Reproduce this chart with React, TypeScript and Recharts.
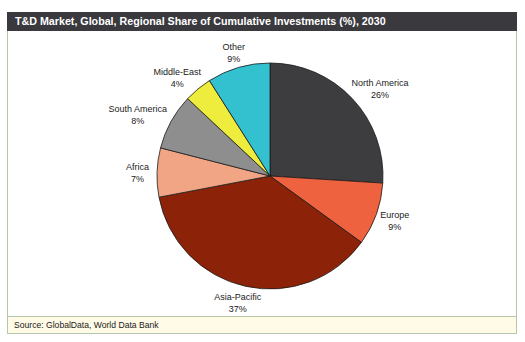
import React from "react";
import { PieChart, Pie, Cell } from "recharts";

const regions = ["North America", "Europe", "Asia-Pacific", "Africa", "South America", "Middle-East", "Other"];
const shares = [26, 9, 37, 7, 8, 4, 9];
const colors = ["#3d3d3f", "#ef6240", "#8c2308", "#f2a584", "#8e8e8e", "#eeec3c", "#33c0cf"];

const data = regions.map((name, i) => ({ name, value: shares[i] }));

const FONT = "Arial, 'Liberation Sans', sans-serif";
const RAD = Math.PI / 180;

// excel-style outside label: box edge sits just off the rim along the mid angle
const renderLabel = (p: any) => {
  const { cx, cy, midAngle, outerRadius, name, value } = p;
  const sin = Math.cos(-midAngle * RAD);
  const cos = Math.sin(-midAngle * RAD);
  const r = outerRadius + 4;
  const ax = cx + r * sin;
  const ay = cy + r * cos;
  const w = name.length * 5.2;
  const h = 24;
  const x = ax + sin * w / 2;
  const y = ay + cos * h / 2;
  return (
    <text x={x} y={y} textAnchor="middle" fontSize={9} fontFamily={FONT} fill="#222">
      <tspan x={x} dy={-2}>{name}</tspan>
      <tspan x={x} dy={12}>{value}%</tspan>
    </text>
  );
};

export default function App() {
  return (
    <div style={{ position: "absolute", left: 0, top: 0, width: 525, height: 342, background: "#fff" }}>
      <div style={{
        position: "absolute", left: 7, top: 12, width: 508, height: 321,
        border: "1px solid #b4c9ac", borderTop: "none", boxSizing: "content-box",
      }}/>
      <div style={{
        position: "absolute", left: 7, top: 12, width: 510, height: 19, background: "#3a393d",
        color: "#fff", fontFamily: FONT, fontWeight: 700, fontSize: 10.7, lineHeight: "19px",
        paddingLeft: 8, boxSizing: "border-box", whiteSpace: "nowrap",
      }}>
        T&amp;D Market, Global, Regional Share of Cumulative Investments (%), 2030
      </div>
      <div style={{ position: "absolute", left: 8, top: 32 }}>
        <PieChart width={508} height={284} margin={{ top: 0, right: 0, bottom: 0, left: 0 }}>
          <Pie
            data={data}
            dataKey="value"
            nameKey="name"
            cx={262}
            cy={144}
            outerRadius={113}
            startAngle={90}
            endAngle={-270}
            stroke="#1a1a1a"
            strokeWidth={0.8}
            label={renderLabel}
            labelLine={false}
            isAnimationActive={false}
          >
            {data.map((d, i) => <Cell key={d.name} fill={colors[i]}/>)}
          </Pie>
        </PieChart>
      </div>
      <div style={{
        position: "absolute", left: 8, top: 316, width: 508, height: 17, background: "#fffbe6",
        borderTop: "1px solid #b4c9ac", fontFamily: FONT, fontSize: 8.6, lineHeight: "17px",
        paddingLeft: 6, boxSizing: "border-box", color: "#222",
      }}>
        Source: GlobalData, World Data Bank
      </div>
    </div>
  );
}
